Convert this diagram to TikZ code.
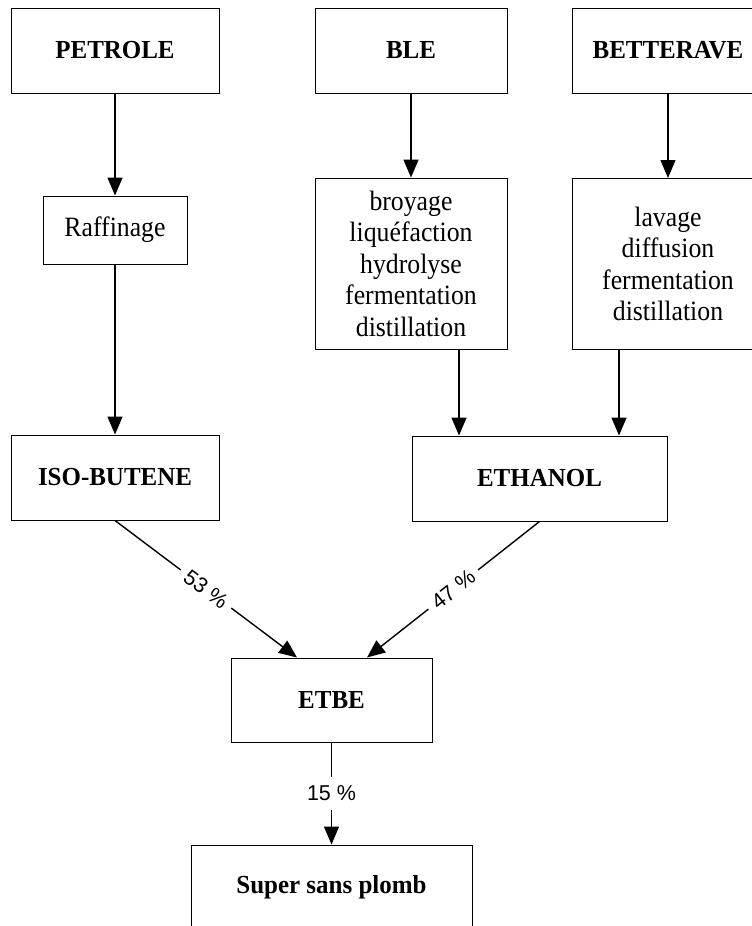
\documentclass[tikz,border=0pt]{standalone}
\usepackage{fontspec}
\setmainfont{Liberation Serif}
\newfontfamily\boldf[FakeStretch=0.96]{Liberation Serif Bold}
\newfontfamily\regf[FakeStretch=0.92]{Liberation Serif}
\newfontfamily\arialf{Liberation Sans}
\usetikzlibrary{arrows.meta,calc}
\tikzset{
  box/.style={draw, line width=1pt, inner sep=0pt, align=center},
  titlebox/.style={box, font=\boldf\fontsize{26}{30}\selectfont},
  procbox/.style={box, font=\regf\fontsize{28}{31.5}\selectfont},
  arr/.style={line width=1.4pt, -{Triangle[length=18pt,width=15pt]}},
  pct/.style={fill=white, font=\arialf\fontsize{21.5}{24}\selectfont},
  pctslope/.style={pct, sloped, inner xsep=7pt, inner ysep=2pt},
  pctv/.style={pct, inner xsep=2pt, inner ysep=9pt}
}
\begin{document}
\begin{tikzpicture}[x=1pt,y=-1pt]
\useasboundingbox (0,0) rectangle (752,926);
\clip (0,0) rectangle (752,926);
% top row
\node[titlebox, minimum width=208pt, minimum height=85pt] (petrole) at (115,50.5) {PETROLE};
\node[titlebox, minimum width=192pt, minimum height=85pt] (ble) at (411,50.5) {BLE};
\node[titlebox, minimum width=192pt, minimum height=85pt] (bett) at (668,50.5) {BETTERAVE};
% processes
\node[procbox, minimum width=144pt, minimum height=68pt] (raff) at (115,230) {Raffinage};
\node[procbox, minimum width=192pt, minimum height=171pt] (broy) at (411,263.5) {broyage\\liquéfaction\\hydrolyse\\fermentation\\distillation};
\node[procbox, minimum width=192pt, minimum height=171pt] (lav) at (668,264) {lavage\\diffusion\\fermentation\\distillation};
% intermediates
\node[titlebox, minimum width=208pt, minimum height=85pt] (iso) at (115,477.5) {ISO-BUTENE};
\node[titlebox, minimum width=255pt, minimum height=85pt] (eth) at (539.5,478.5) {ETHANOL};
\node[titlebox, minimum width=201pt, minimum height=84pt] (etbe) at (331.5,700) {ETBE};
\node[titlebox, minimum width=281pt, minimum height=85pt] (ssp) at (331.5,887.5) {Super sans plomb};
% connectors
\draw[arr] (petrole.south) -- (raff.north);
\draw[arr] (raff.south) -- (iso.north);
\draw[arr] (ble.south) -- (broy.north);
\draw[arr] (bett.south) -- (lav.north);
\draw[arr] ([xshift=48pt]broy.south) -- ([xshift=48pt]broy.south |- eth.north);
\draw[arr] ([xshift=-49pt]lav.south) -- ([xshift=-49pt]lav.south |- eth.north);
\draw[arr] (iso.south) -- node[pctslope] {53 \%} ([xshift=-34.5pt]etbe.north);
\draw[arr] (eth.south) -- node[pctslope] {47 \%} ([xshift=35.5pt]etbe.north);
\draw[arr] (etbe.south) -- node[pctv] {15 \%} (ssp.north);
\end{tikzpicture}
\end{document}
